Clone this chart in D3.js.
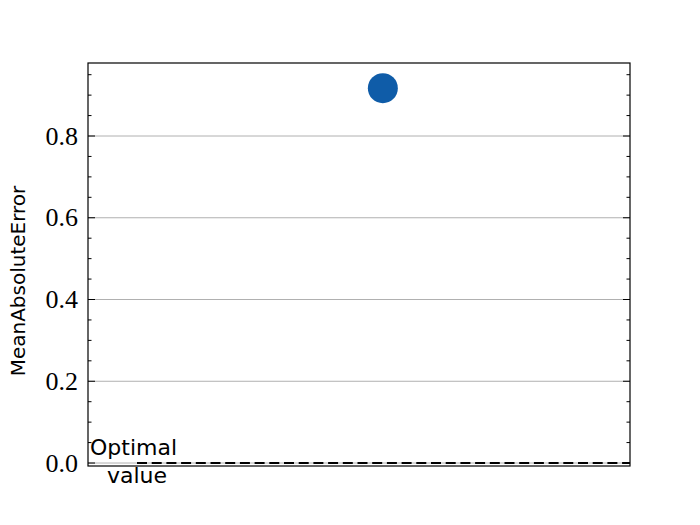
<!DOCTYPE html>
<html><head><meta charset="utf-8">
<script src="https://cdn.jsdelivr.net/npm/d3@7"></script>
<style>body{margin:0;background:#fff}</style></head>
<body><svg id="c" width="700" height="525"></svg>
<script>
const categories = ["model"];
const values = [0.917];
const optimalValue = 0;
const yTicks = [0.0, 0.2, 0.4, 0.6, 0.8];
const yLabel = "MeanAbsoluteError";

const svg = d3.select("#c");
const L = 88, R = 630, T = 63, B = 466;
const y = d3.scaleLinear().domain([-0.0073, 0.9786]).range([B, T]);
const xPos = c => L + (R - L) * 0.544;

// gridlines
svg.append("g").selectAll("line").data(yTicks).join("line")
  .attr("x1", L).attr("x2", R).attr("y1", d => y(d)).attr("y2", d => y(d))
  .attr("stroke", "#b0b0b0").attr("stroke-width", 1);

// optimal line
svg.append("line").attr("x1", 137).attr("x2", R)
  .attr("y1", y(optimalValue)).attr("y2", y(optimalValue))
  .attr("stroke", "#000").attr("stroke-width", 2.2).attr("stroke-dasharray", "10,4.7");

// minor ticks
const minor = d3.range(0, 0.976, 0.05).filter(v => !yTicks.some(t => Math.abs(t - v) < 1e-6));
const tg = svg.append("g").attr("stroke", "#000").attr("stroke-width", 1);
minor.forEach(v => {
  tg.append("line").attr("x1", L).attr("x2", L + 3.5).attr("y1", y(v)).attr("y2", y(v));
  tg.append("line").attr("x1", R).attr("x2", R - 3.5).attr("y1", y(v)).attr("y2", y(v));
});
yTicks.forEach(v => {
  tg.append("line").attr("x1", L).attr("x2", L + 7).attr("y1", y(v)).attr("y2", y(v));
  tg.append("line").attr("x1", R).attr("x2", R - 7).attr("y1", y(v)).attr("y2", y(v));
});

// frame
svg.append("rect").attr("x", L).attr("y", T).attr("width", R - L).attr("height", B - T)
  .attr("fill", "none").attr("stroke", "#000").attr("stroke-width", 1.2);

// tick labels
svg.append("g").selectAll("text").data(yTicks).join("text")
  .attr("x", L - 10).attr("y", d => y(d)).attr("dy", "0.33em")
  .attr("text-anchor", "end").attr("font-family", "Liberation Serif, DejaVu Serif, serif")
  .attr("font-size", 26).text(d => d.toFixed(1));

// point
svg.append("g").selectAll("circle").data(values).join("circle")
  .attr("cx", (d, i) => xPos(categories[i])).attr("cy", d => y(d)).attr("r", 15)
  .attr("fill", "#0f5ca8");

// y label
svg.append("text").attr("transform", `translate(25,${281}) rotate(-90)`)
  .attr("text-anchor", "middle").attr("font-family", "DejaVu Sans, sans-serif")
  .attr("font-size", 20).text(yLabel);

// optimal value annotation
svg.append("text").attr("x", 90).attr("y", 455).attr("font-family", "DejaVu Sans, sans-serif")
  .attr("font-size", 22).text("Optimal");
svg.append("text").attr("x", 107).attr("y", 483).attr("font-family", "DejaVu Sans, sans-serif")
  .attr("font-size", 22).text("value");
</script></body></html>
